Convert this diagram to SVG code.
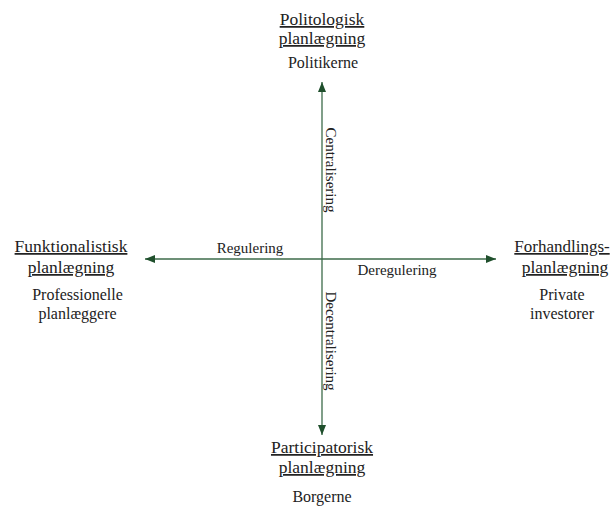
<svg xmlns="http://www.w3.org/2000/svg" width="611" height="506" viewBox="0 0 611 506">
<style>
.h{font-family:"Liberation Serif","Times New Roman",serif;font-size:17.5px;fill:#222;text-anchor:middle;text-decoration:underline}
.s{font-family:"Liberation Serif","Times New Roman",serif;font-size:16px;fill:#222;text-anchor:middle}
.l{font-family:"Liberation Serif","Times New Roman",serif;font-size:15px;fill:#222;text-anchor:middle}
.ax{stroke:#3d6b4a;stroke-width:1.3;fill:none}
</style>
<defs>
<marker id="ah" viewBox="0 0 10 8" refX="10" refY="4" markerWidth="10" markerHeight="8" markerUnits="userSpaceOnUse" orient="auto">
<path d="M0,0 L10,4 L0,8 Z" fill="#1f4f2c"/>
</marker>
</defs>
<rect width="611" height="506" fill="#fff"/>
<g id="connectors">
<line class="ax" x1="322" y1="259" x2="322" y2="82" marker-end="url(#ah)"/>
<line class="ax" x1="322" y1="259" x2="322" y2="435" marker-end="url(#ah)"/>
<line class="ax" x1="322" y1="259" x2="145" y2="259" marker-end="url(#ah)"/>
<line class="ax" x1="322" y1="259" x2="496" y2="259" marker-end="url(#ah)"/>
<text class="l" x="250" y="253">Regulering</text>
<text class="l" x="397" y="275">Deregulering</text>
<text class="l" transform="translate(326,170) rotate(90)">Centralisering</text>
<text class="l" transform="translate(326,341) rotate(90)">Decentralisering</text>
</g>
<g id="top">
<text class="h" x="322" y="25">Politologisk</text>
<text class="h" x="322" y="44">planlægning</text>
<text class="s" x="323" y="68">Politikerne</text>
</g>
<g id="left">
<text class="h" x="71" y="252">Funktionalistisk</text>
<text class="h" x="71" y="273">planlægning</text>
<text class="s" x="77.5" y="300">Professionelle</text>
<text class="s" x="77.5" y="319">planlæggere</text>
</g>
<g id="right">
<text class="h" x="562" y="252" style="font-size:17px">Forhandlings-</text>
<text class="h" x="565" y="273">planlægning</text>
<text class="s" x="562" y="300">Private</text>
<text class="s" x="562" y="319">investorer</text>
</g>
<g id="bottom">
<text class="h" x="322" y="453">Participatorisk</text>
<text class="h" x="322" y="473">planlægning</text>
<text class="s" x="322" y="502">Borgerne</text>
</g>
</svg>
